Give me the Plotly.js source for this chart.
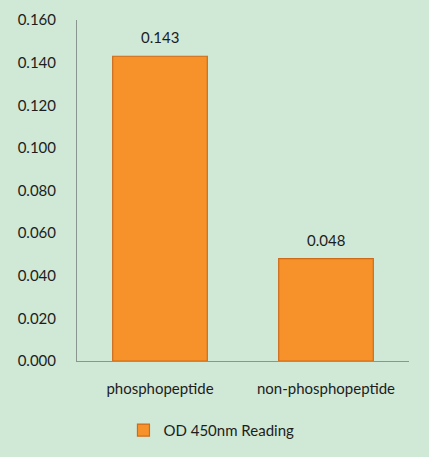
<!DOCTYPE html>
<html>
<head>
<meta charset="utf-8">
<script src="https://cdn.plot.ly/plotly-3.0.1.min.js"></script>
<style>
  html, body { margin: 0; padding: 0; background: #ffffff; }
  #chart { width: 429px; height: 457px; }
</style>
</head>
<body>
<div id="chart"></div>
<script>
const categories = ["phosphopeptide", "non-phosphopeptide"];
const readings = [0.143, 0.048];
const readingLabels = ["0.143", "0.048"];
const seriesName = "OD 450nm Reading";
const yTickValues = [0, 0.02, 0.04, 0.06, 0.08, 0.1, 0.12, 0.14, 0.16];
const yTickLabels = ["0.000", "0.020", "0.040", "0.060", "0.080", "0.100", "0.120", "0.140", "0.160"];

const FONT = "Lato, 'Open Sans', Arial, sans-serif";
const TEXT_COLOR = "#1d1d1d";

// value labels sit a little above each bar, as in the original
const valueNotes = categories.map((cat, i) => ({
  x: cat,
  y: readings[i],
  xref: "x",
  yref: "y",
  text: readingLabels[i],
  showarrow: false,
  yanchor: "bottom",
  yshift: 8,
  font: { size: 15, color: TEXT_COLOR },
}));

Plotly.newPlot(
  "chart",
  [
    {
      type: "bar",
      name: seriesName,
      x: categories,
      y: readings,
      marker: { color: "#f7922a", line: { color: "#cf6a18", width: 1.2 } },
      hoverinfo: "skip",
    },
  ],
  {
    width: 429,
    height: 457,
    margin: { l: 77, r: 20, t: 20, b: 96, autoexpand: false },
    paper_bgcolor: "#d0e8d6",
    plot_bgcolor: "#d0e8d6",
    font: { family: FONT, size: 15, color: TEXT_COLOR },
    bargap: 0.43,
    annotations: valueNotes,
    xaxis: {
      showline: true,
      linecolor: "#8a9590",
      linewidth: 1,
      ticks: "",
      ticklabelstandoff: 14,
      showgrid: false,
      fixedrange: true,
    },
    yaxis: {
      range: [0, 0.16],
      tickvals: yTickValues,
      ticktext: yTickLabels,
      showline: true,
      linecolor: "#8a9590",
      linewidth: 1,
      ticks: "",
      ticklabelstandoff: 17,
      showgrid: false,
      zeroline: false,
      fixedrange: true,
    },
    showlegend: true,
    legend: {
      orientation: "h",
      x: 0.405,
      xanchor: "center",
      y: -0.155,
      yanchor: "top",
      bgcolor: "rgba(0,0,0,0)",
      itemwidth: 30,
      font: { size: 15 },
    },
  },
  { displayModeBar: false, staticPlot: true }
);
</script>
</body>
</html>
